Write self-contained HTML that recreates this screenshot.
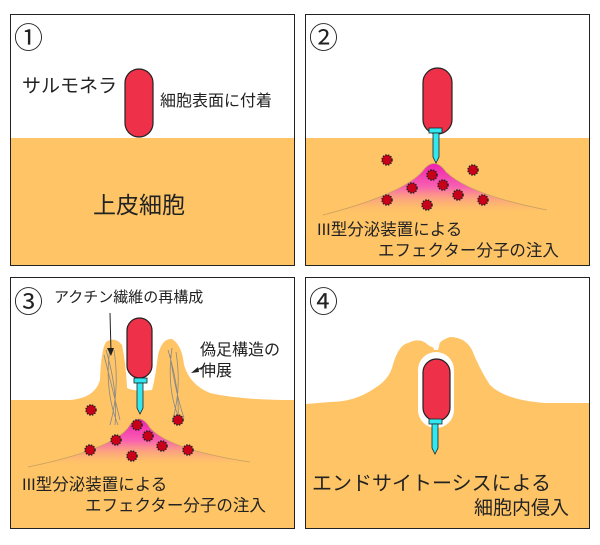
<!DOCTYPE html>
<html><head><meta charset="utf-8"><style>
body{margin:0;background:#fff}
svg text{font-family:"Liberation Sans","Noto Sans CJK JP",sans-serif;fill:#222}
</style></head><body>
<svg width="600" height="540" viewBox="0 0 600 540" xmlns="http://www.w3.org/2000/svg">
<defs>
<linearGradient id="g" x1="0" y1="0" x2="0" y2="1">
<stop offset="0" stop-color="#f020b0"/><stop offset="0.45" stop-color="#f860b0"/><stop offset="1" stop-color="#fec466" stop-opacity="0"/>
</linearGradient>
<g id="dot"><circle r="5" fill="#c8001a" stroke="#222" stroke-width="1.5" stroke-dasharray="1.5 1.2"/></g>
</defs>
<!-- Panel 1 -->
<rect x="10.5" y="14.5" width="284" height="251" fill="#fff" stroke="#222"/>
<rect x="11" y="138" width="283" height="127" fill="#fec466"/>
<rect x="125" y="69" width="28" height="68" rx="14" fill="#ee3048" stroke="#222" stroke-width="1.2"/>
<text x="14" y="48" font-size="29">①</text>
<text x="22" y="92" font-size="19">サルモネラ</text>
<text x="160" y="106" font-size="16">細胞表面に付着</text>
<text x="93" y="213" font-size="23">上皮細胞</text>
<!-- Panel 2 -->
<rect x="305.5" y="14.5" width="284" height="251" fill="#fff" stroke="#222"/>
<rect x="306" y="138" width="283" height="127" fill="#fec466"/>
<path d="M323,215 Q400,195 422,172 Q434,155 446,172 Q470,195 547,210 Z" fill="url(#g)"/>
<path d="M323,215 Q400,195 422,172 Q434,155 446,172 Q470,195 547,210" fill="none" stroke="#c8a060" stroke-width="0.8"/>
<rect x="423" y="68" width="29" height="66" rx="14.5" fill="#ee3048" stroke="#222" stroke-width="1.2"/>
<rect x="429" y="128" width="13" height="5" fill="#30e8f0" stroke="#222" stroke-width="0.8"/>
<path d="M433,133 L439,133 L439,157 L436,163 L433,157 Z" fill="#30e8f0" stroke="#222" stroke-width="0.8"/>
<g><use href="#dot" x="387" y="160"/><use href="#dot" x="473" y="170"/><use href="#dot" x="432" y="175"/><use href="#dot" x="412" y="188"/><use href="#dot" x="443" y="185"/><use href="#dot" x="458" y="195"/><use href="#dot" x="387" y="200"/><use href="#dot" x="427" y="205"/><use href="#dot" x="483" y="200"/></g>
<text x="309" y="48" font-size="29">②</text>
<text x="317" y="235" font-size="16.5">III型分泌装置による</text>
<text x="378" y="256" font-size="16.5">エフェクター分子の注入</text>
<!-- Panel 3 -->
<rect x="10.5" y="277.5" width="284" height="251" fill="#fff" stroke="#222"/>
<path d="M11,400 L70,400 Q95,398 100,380 Q101,350 106,342 Q115,336 122,345 Q126,365 127,388 Q135,392 152,390 Q155,380 158,355 Q162,338 172,339 Q182,345 184,365 Q190,385 210,393 Q240,400 294,400 L294,528 L11,528 Z" fill="#fec466"/>
<g stroke="#888" stroke-width="0.8" fill="none">
<path d="M106,350 Q118,390 115,425 M110,348 Q104,390 118,425 M114,350 Q120,390 110,425 M104,355 Q114,395 120,420"/>
<path d="M168,350 Q180,390 178,420 M172,348 Q166,390 180,420 M176,352 Q182,390 172,422 M170,355 Q176,395 184,418"/>
</g>
<path d="M28,467 Q110,450 128,428 Q139,410 150,428 Q170,450 250,462 Z" fill="url(#g)"/>
<path d="M28,467 Q110,450 128,428 Q139,410 150,428 Q170,450 250,462" fill="none" stroke="#c8a060" stroke-width="0.8"/>
<rect x="127" y="318" width="25" height="60" rx="12.5" fill="#ee3048" stroke="#222" stroke-width="1.2"/>
<rect x="134" y="378" width="13" height="5" fill="#30e8f0" stroke="#222" stroke-width="0.8"/>
<path d="M137,383 L143,383 L143,408 L140,414 L137,408 Z" fill="#30e8f0" stroke="#222" stroke-width="0.8"/>
<g><use href="#dot" x="91" y="410"/><use href="#dot" x="178" y="420"/><use href="#dot" x="137" y="425"/><use href="#dot" x="148" y="436"/><use href="#dot" x="116" y="440"/><use href="#dot" x="162" y="446"/><use href="#dot" x="90" y="450"/><use href="#dot" x="132" y="456"/><use href="#dot" x="188" y="450"/></g>
<line x1="110" y1="313" x2="111" y2="352" stroke="#222" stroke-width="1"/>
<path d="M107,348 L111,356 L114,348 Z" fill="#222"/>
<line x1="205" y1="366" x2="195" y2="371" stroke="#222" stroke-width="1"/>
<path d="M191,373 L198,367 L199,372 Z" fill="#222"/>
<text x="14" y="312" font-size="29">③</text>
<text x="54" y="302" font-size="15">アクチン繊維の再構成</text>
<text x="200" y="355" font-size="16">偽足構造の</text>
<text x="200" y="376" font-size="16">伸展</text>
<text x="22" y="490" font-size="16.5">III型分泌装置による</text>
<text x="85" y="511" font-size="16.5">エフェクター分子の注入</text>
<!-- Panel 4 -->
<rect x="305.5" y="277.5" width="284" height="251" fill="#fff" stroke="#222"/>
<path d="M306,404 L330,402 Q355,402 375,388 Q388,380 392,368 Q398,345 408,343 Q420,337 428,345 Q433,348 436,348 Q440,340 450,337 Q465,337 472,350 Q480,370 490,385 Q505,400 545,403 L589,403 L589,528 L306,528 Z" fill="#fec466"/>
<path d="M431,338 L434,350 L438,350 L441,338 Z" fill="#fff"/>
<rect x="418" y="352" width="36" height="76" rx="18" fill="#fff"/>
<rect x="423" y="359" width="27" height="62" rx="13.5" fill="#ee3048" stroke="#222" stroke-width="1.2"/>
<rect x="429" y="419" width="13" height="5" fill="#30e8f0" stroke="#222" stroke-width="0.8"/>
<path d="M432,424 L438,424 L438,448 L435,454 L432,448 Z" fill="#30e8f0" stroke="#222" stroke-width="0.8"/>
<text x="309" y="312" font-size="29">④</text>
<text x="312" y="490" font-size="20">エンドサイトーシスによる</text>
<text x="474" y="514" font-size="19">細胞内侵入</text>
</svg>
</body></html>
